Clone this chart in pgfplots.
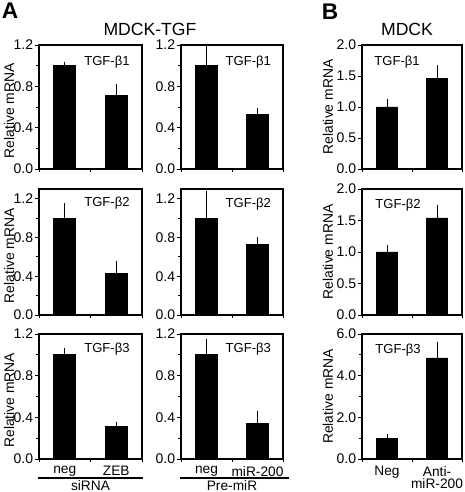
\documentclass[border=0pt]{standalone}
\usepackage{fontspec}
\setmainfont{Liberation Sans}
\usepackage{pgfplots}
\pgfplotsset{compat=1.18}
\tikzset{gene/.style={font=\fontsize{9.8}{11}\selectfont}}
\pgfplotsset{
  panel/.style={
    scale only axis, anchor=south west, clip=false,
    xmin=0, xmax=2, ymin=0,
    ybar, bar width=0.43,
    axis line style={line width=1.1pt},
    tick pos=left, tick align=outside,
    major tick length=3.2pt, minor tick length=2.2pt,
    tick style={black, line width=0.6pt},
    xtick={0.5,1.5}, minor xtick={0,1,2},
    major x tick style={draw=none},
    xticklabels={},
    /pgf/number format/assume math mode=true,
    yticklabel style={font=\fontsize{10.5}{12}\selectfont, inner sep=1pt,
      /pgf/number format/.cd, fixed, fixed zerofill, precision=1, assume math mode=true},
    xticklabel style={font=\fontsize{10.3}{9.2}\selectfont, inner sep=2pt},
    ylabel style={anchor=center, font=\fontsize{10.4}{12}\selectfont},
  },
  bars/.style={fill=black, draw=black, line width=0.5pt,
    error bars/.cd, y dir=plus, y explicit,
    error bar style={line width=0.6pt, black},
    error mark options={black, line width=0.6pt, mark size=3pt}},
  lowA/.style={ymax=1.2, ytick={0,0.4,0.8,1.2}, minor ytick={0.2,0.6,1.0}},
  midA/.style={ymax=1.3, ytick={0,0.4,0.8,1.2}, minor ytick={0.2,0.6,1.0}},
  smallB/.style={ymax=2.0, ytick={0,0.5,1.0,1.5,2.0}},
}
\begin{document}
\begin{tikzpicture}
\useasboundingbox (0,0) rectangle (348pt,369pt);
% ---------------- Column 1 (MDCK-TGF, siRNA)
\begin{axis}[panel, lowA, at={(29.25pt,242.25pt)}, width=77.25pt, height=93pt,
  ylabel={Relative mRNA}, ylabel style={at={(axis description cs:-0.29,0.47)}}]
\addplot[bars] coordinates {(0.5,1.00) +- (0,0.0) (1.5,0.71) +- (0,0.07)};
\node[gene] at (rel axis cs:0.66,0.86) {TGF-β1};
\end{axis}
\begin{axis}[panel, midA, at={(29.25pt,132.75pt)}, width=77.25pt, height=94.5pt,
  ylabel={Relative mRNA}, ylabel style={at={(axis description cs:-0.29,0.47)}}]
\addplot[bars] coordinates {(0.5,1.00) +- (0,0.11) (1.5,0.43) +- (0,0.09)};
\node[gene] at (rel axis cs:0.66,0.89) {TGF-β2};
\end{axis}
\begin{axis}[panel, lowA, at={(29.25pt,24.75pt)}, width=77.25pt, height=93.75pt,
  ylabel={Relative mRNA}, ylabel style={at={(axis description cs:-0.29,0.47)}},
  xticklabels={neg,ZEB}]
\addplot[bars] coordinates {(0.5,1.00) +- (0,0.03) (1.5,0.31) +- (0,0.01)};
\node[gene] at (rel axis cs:0.66,0.88) {TGF-β3};
\draw[line width=0.8pt] (axis description cs:-0.01,-0.152) -- (axis description cs:1.01,-0.152);
\node[font=\fontsize{10.3}{12}\selectfont, inner sep=0pt] at (axis description cs:0.5,-0.212) {siRNA};
\end{axis}
% ---------------- Column 2 (MDCK-TGF, Pre-miR)
\begin{axis}[panel, lowA, at={(135.75pt,242.25pt)}, width=76.5pt, height=93pt]
\addplot[bars] coordinates {(0.5,1.00) +- (0,0.17) (1.5,0.53) +- (0,0.02)};
\node[gene] at (rel axis cs:0.66,0.86) {TGF-β1};
\end{axis}
\begin{axis}[panel, midA, at={(135.75pt,132.75pt)}, width=76.5pt, height=94.5pt]
\addplot[bars] coordinates {(0.5,1.00) +- (0,0.24) (1.5,0.73) +- (0,0.035)};
\node[gene] at (rel axis cs:0.66,0.88) {TGF-β2};
\end{axis}
\begin{axis}[panel, lowA, at={(135.75pt,24.75pt)}, width=76.5pt, height=93.75pt,
  xticklabels={neg,miR-200}]
\addplot[bars] coordinates {(0.5,1.00) +- (0,0.11) (1.5,0.34) +- (0,0.08)};
\node[gene] at (rel axis cs:0.66,0.88) {TGF-β3};
\draw[line width=0.8pt] (axis description cs:-0.01,-0.152) -- (axis description cs:1.06,-0.152);
\node[font=\fontsize{10.3}{12}\selectfont, inner sep=0pt] at (axis description cs:0.5,-0.212) {Pre-miR};
\end{axis}
% ---------------- Column 3 (MDCK)
\begin{axis}[panel, smallB, at={(271.5pt,242.25pt)}, width=75pt, height=93pt,
  ylabel={Relative mRNA}, ylabel style={at={(axis description cs:-0.34,0.5)}}]
\addplot[bars] coordinates {(0.5,1.00) +- (0,0.06) (1.5,1.46) +- (0,0.15)};
\node[gene] at (rel axis cs:0.35,0.86) {TGF-β1};
\end{axis}
\begin{axis}[panel, smallB, at={(271.5pt,132.75pt)}, width=75pt, height=94.5pt,
  ylabel={Relative mRNA}, ylabel style={at={(axis description cs:-0.34,0.5)}}]
\addplot[bars] coordinates {(0.5,1.00) +- (0,0.05) (1.5,1.54) +- (0,0.15)};
\node[gene] at (rel axis cs:0.36,0.87) {TGF-β2};
\end{axis}
\begin{axis}[panel, at={(271.5pt,24.75pt)}, width=75pt, height=93.75pt,
  ymax=6, ytick={0,2,4,6}, minor ytick={1,3,5},
  ylabel={Relative mRNA}, ylabel style={at={(axis description cs:-0.34,0.5)}},
  xticklabels={Neg,{Anti-\\miR-200}}, xticklabel style={align=center}]
\addplot[bars] coordinates {(0.5,1.00) +- (0,0.0) (1.5,4.85) +- (0,0.57)};
\node[gene] at (rel axis cs:0.36,0.87) {TGF-β3};
\end{axis}
% ---------------- Titles and panel letters
\node[font=\fontsize{13.2}{15}\selectfont, inner sep=0pt] at (112.5pt,347pt) {MDCK-TGF};
\node[font=\fontsize{13.2}{15}\selectfont, inner sep=0pt] at (305.25pt,347pt) {MDCK};
\node[font=\fontsize{17}{19}\selectfont\bfseries, inner sep=0pt] at (7.5pt,360.75pt) {A};
\node[font=\fontsize{17}{19}\selectfont\bfseries, inner sep=0pt] at (247.5pt,360pt) {B};
\end{tikzpicture}
\end{document}
